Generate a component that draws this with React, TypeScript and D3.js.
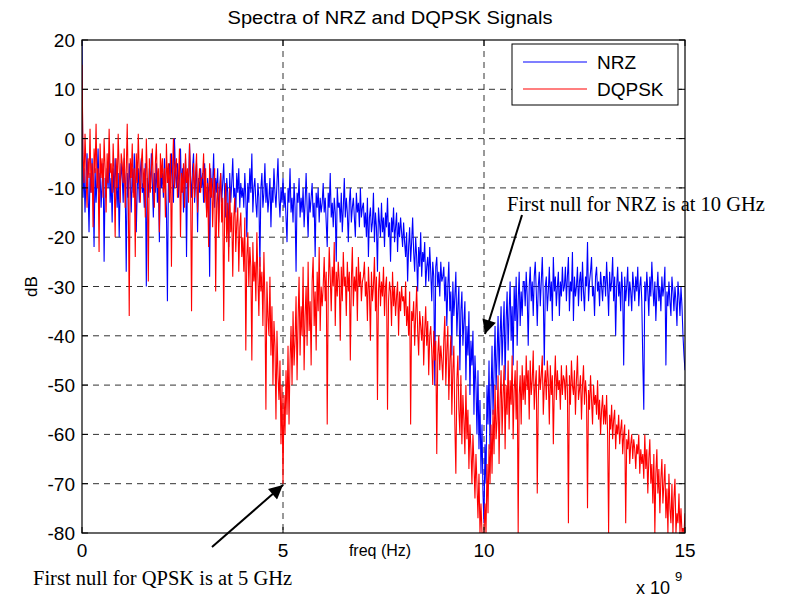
import React from "react";
import * as d3 from "d3";

const F_MAX_GHZ = 15;
const xTicks = [0, 5, 10, 15];
const yTicks = [20, 10, 0, -10, -20, -30, -40, -50, -60, -70, -80];
const seriesNames = ["NRZ", "DQPSK"];
const seriesColors = ["#0000ff", "#ff0000"];

// NRZ spectrum (dB), 0..15 GHz, 0.025 GHz steps (one row per GHz)
const nrz = [
  20, -12, -6, -15, -8, -3, -10, -19, -7, -11, -4, -9, -22, -6, -13, -8, -2, -11, -7, -14, -9, -5, -25, -8, -12, -6, -10, -3, -13, -8, -17, -6, -11, -4, -9, -14, -7, -20, -10, -5,
  -8, -13, -4, -10, -27, -7, -12, -5, -9, -15, -6, -11, -3, -8, -19, -10, -6, -13, -7, -4, -11, -9, -14, -5, -30, -8, -12, -6, -10, -3, -9, -16, -7, -11, -5, -13, -8, -21, -6, -10,
  -7, -12, -4, -9, -14, -33, -8, -5, -11, -3, -9, -13, 0, -7, -10, -5, -12, -8, -2, -11, -6, -15, -9, -4, -24, -7, -10, -1, -8, -12, -6, -3, -13, -9, -5, -19, -8, -11, -6, -10,
  -7, -13, -5, -10, -15, -8, -11, -28, -6, -12, -9, -3, -14, -8, -11, -6, -17, -10, -7, -13, -9, -5, -12, -16, -8, -11, -22, -7, -13, -9, -4, -12, -10, -15, -7, -11, -6, -14, -9, -12,
  -10, -14, -7, -12, -20, -9, -13, -6, -11, -3, -15, -10, -8, -13, -16, -9, -12, -26, -10, -7, -14, -11, -5, -13, -9, -15, -12, -8, -18, -10, -13, -6, -11, -14, -9, -4, -12, -16, -10, -13,
  -8, -14, -11, -16, -21, -10, -13, -6, -15, -12, -17, -9, -14, -27, -11, -13, -8, -16, -12, -15, -10, -18, -13, -7, -14, -20, -11, -15, -12, -9, -16, -13, -24, -11, -14, -10, -17, -12, -15, -13,
  -9, -15, -12, -17, -22, -11, -14, -7, -16, -13, -18, -12, -15, -25, -10, -14, -13, -17, -11, -19, -14, -8, -16, -12, -15, -21, -13, -10, -17, -14, -12, -16, -20, -11, -15, -13, -18, -10, -16, -14,
  -13, -18, -15, -20, -12, -24, -16, -14, -19, -17, -11, -21, -15, -18, -27, -14, -17, -20, -13, -19, -16, -22, -15, -18, -12, -20, -17, -25, -16, -19, -14, -21, -18, -15, -23, -17, -20, -16, -19, -22,
  -17, -21, -24, -19, -29, -22, -18, -25, -21, -16, -23, -27, -20, -24, -31, -22, -26, -19, -28, -23, -25, -21, -30, -26, -24, -29, -22, -27, -33, -25, -28, -50, -26, -24, -30, -27, -32, -25, -29, -28,
  -26, -33, -28, -38, -30, -25, -35, -31, -44, -29, -36, -32, -27, -40, -34, -30, -47, -35, -31, -42, -37, -33, -49, -38, -44, -35, -52, -41, -46, -39, -56, -44, -50, -60, -47, -63, -53, -68, -58, -72,
  -78, -62, -70, -50, -58, -45, -63, -52, -42, -56, -47, -38, -51, -44, -36, -48, -40, -34, -46, -39, -33, -49, -37, -31, -43, -35, -29, -41, -34, -46, -30, -37, -28, -42, -33, -27, -38, -31, -36, -29,
  -29, -34, -27, -32, -42, -30, -26, -33, -29, -36, -28, -25, -31, -38, -30, -27, -34, -29, -24, -32, -46, -30, -28, -35, -31, -26, -33, -29, -37, -24, -31, -28, -34, -30, -27, -36, -29, -32, -26, -31,
  -30, -26, -33, -28, -24, -35, -29, -31, -23, -37, -28, -32, -30, -26, -34, -29, -27, -33, -25, -31, -35, -28, -30, -21, -33, -29, -27, -24, -32, -30, -36, -28, -26, -31, -29, -34, -27, -30, -33, -28,
  -28, -32, -25, -30, -36, -27, -31, -29, -24, -33, -28, -40, -30, -26, -32, -29, -35, -27, -31, -46, -28, -33, -30, -26, -34, -29, -31, -35, -27, -30, -33, -28, -31, -26, -34, -30, -28, -33, -45, -55,
  -29, -33, -27, -31, -36, -28, -32, -25, -30, -34, -29, -37, -31, -27, -33, -30, -35, -28, -32, -30, -26, -46, -31, -34, -29, -33, -36, -28, -31, -35, -30, -33, -38, -29, -32, -36, -30, -34, -40, -44,
  -47,
];

// DQPSK spectrum (dB), same frequency grid
const dqpsk = [
  15, -3, -9, 1, -6, -14, -4, -8, 2, -11, -5, -18, -2, -7, 3, -10, -6, -23, -1, -8, -4, -12, 0, -6, -15, -3, -9, 2, -7, -5, -11, -1, -8, -20, -4, -10, 1, -6, -13, -3,
  -5, -9, -2, -14, -7, 3, -10, -36, -4, -8, -1, -12, -6, -24, -3, -9, 1, -7, -13, -5, -2, -10, -6, -16, 0, -8, -29, -4, -11, -7, -2, -9, -14, -5, -1, -10, -6, -19, -3, -8,
  -4, -11, -6, -16, -1, -9, -5, -13, -3, -26, -7, 0, -10, -6, -4, -12, -8, -2, -20, -7, -11, -5, -14, -3, -9, -6, -13, -1, -8, -35, -10, -5, -12, -7, -3, -15, -9, -6, -11, -8,
  -8, -3, -13, -6, -16, -9, -22, -5, -12, -8, -18, -10, -6, -31, -13, -9, -20, -11, -7, -17, -12, -37, -14, -9, -21, -13, -25, -10, -19, -15, -28, -16, -12, -23, -17, -14, -27, -18, -15, -24,
  -20, -27, -16, -43, -24, -19, -30, -22, -26, -45, -21, -29, -25, -33, -19, -28, -36, -24, -31, -27, -38, -23, -33, -55, -29, -36, -40, -28, -44, -34, -50, -37, -42, -57, -39, -48, -53, -45, -62, -50,
  -70, -52, -60, -47, -56, -42, -58, -45, -38, -50, -35, -46, -41, -32, -49, -37, -28, -44, -34, -40, -26, -47, -36, -30, -42, -25, -39, -33, -46, -29, -24, -38, -31, -43, -27, -35, -22, -39, -30, -34,
  -30, -24, -33, -27, -58, -31, -22, -28, -35, -26, -30, -21, -38, -27, -32, -25, -29, -41, -26, -33, -23, -30, -28, -36, -25, -31, -27, -45, -29, -22, -34, -28, -31, -26, -37, -24, -30, -27, -33, -29,
  -28, -25, -32, -29, -37, -26, -31, -41, -27, -33, -30, -24, -35, -28, -53, -31, -27, -34, -29, -32, -26, -36, -30, -28, -55, -33, -29, -31, -38, -27, -34, -30, -36, -32, -29, -40, -31, -35, -30, -33,
  -32, -36, -29, -38, -34, -40, -31, -58, -35, -37, -33, -42, -36, -30, -39, -44, -35, -38, -41, -36, -46, -39, -34, -42, -37, -48, -40, -38, -43, -50, -39, -45, -41, -64, -44, -40, -47, -42, -45, -49,
  -41, -36, -50, -43, -38, -53, -45, -40, -56, -47, -42, -58, -68, -49, -44, -55, -60, -48, -62, -52, -57, -64, -50, -61, -55, -67, -58, -63, -70, -60, -66, -73, -64, -70, -77, -68, -80, -74, -80, -80,
  -80, -74, -80, -66, -76, -62, -70, -58, -68, -55, -64, -50, -61, -57, -48, -66, -53, -47, -60, -52, -46, -63, -50, -56, -45, -59, -49, -54, -44, -61, -51, -47, -57, -45, -80, -52, -48, -58, -46, -53,
  -48, -54, -44, -51, -47, -57, -45, -52, -49, -43, -55, -50, -47, -72, -53, -46, -51, -48, -44, -56, -50, -47, -53, -45, -49, -58, -46, -52, -48, -62, -50, -44, -53, -47, -51, -49, -55, -46, -52, -48,
  -49, -53, -46, -51, -78, -48, -54, -45, -50, -52, -47, -56, -49, -44, -53, -51, -48, -57, -50, -46, -54, -49, -52, -75, -51, -55, -48, -53, -58, -50, -54, -52, -56, -49, -57, -53, -60, -55, -52, -58,
  -54, -58, -52, -60, -80, -56, -59, -54, -61, -57, -55, -63, -58, -60, -56, -62, -59, -57, -64, -60, -58, -78, -61, -63, -59, -66, -62, -60, -65, -61, -63, -67, -62, -64, -60, -68, -63, -66, -64, -69,
  -60, -67, -63, -72, -65, -61, -70, -66, -74, -64, -80, -68, -63, -72, -67, -76, -69, -65, -74, -70, -66, -77, -71, -80, -68, -75, -78, -70, -80, -73, -69, -80, -76, -78, -72, -80, -75, -80, -79, -80,
  -76,
];

const W = 809;
const H = 600;
const L = 82, R = 685, T = 40, B = 533;

export default function App() {
  const x = d3.scaleLinear().domain([0, F_MAX_GHZ]).range([L, R]);
  const y = d3.scaleLinear().domain([-80, 20]).range([B, T]);
  const makeLine = (arr: number[]) =>
    d3
      .line<number>()
      .x((_, i) => x((i * F_MAX_GHZ) / (arr.length - 1)))
      .y((d) => y(d))(arr) || "";
  const sans = "'Liberation Sans', Arial, sans-serif";
  const serif = "'Liberation Serif', 'Times New Roman', serif";
  const tickLen = 6;

  return (
    <svg
      width={W}
      height={H}
      style={{ position: "absolute", left: 0, top: 0, background: "#fff" }}
    >
      <defs>
        <clipPath id="plotclip">
          <rect x={L} y={T} width={R - L} height={B - T} />
        </clipPath>
        <marker id="arrow" viewBox="0 0 10 10" refX="10" refY="5" markerWidth="15" markerHeight="14" markerUnits="userSpaceOnUse" orient="auto">
          <path d="M0,0 L10,5 L0,10 z" fill="#000" />
        </marker>
      </defs>
      <rect x={0} y={0} width={W} height={H} fill="#fff" />
      <text x={390} y={24} textAnchor="middle" fontFamily={sans} fontSize={18} textLength={325} lengthAdjust="spacingAndGlyphs">
        Spectra of NRZ and DQPSK Signals
      </text>
      {[5, 10].map((v) => (
        <line key={"gx" + v} x1={x(v)} x2={x(v)} y1={T} y2={B} stroke="#333" strokeWidth={1} strokeDasharray="6,5" />
      ))}
      {yTicks.filter((v) => v !== 20 && v !== -80).map((v) => (
        <line key={"gy" + v} x1={L} x2={R} y1={y(v)} y2={y(v)} stroke="#333" strokeWidth={1} strokeDasharray="6,5" />
      ))}
      <g clipPath="url(#plotclip)">
        <path d={makeLine(nrz)} fill="none" stroke={seriesColors[0]} strokeWidth={1.1} />
        <path d={makeLine(dqpsk)} fill="none" stroke={seriesColors[1]} strokeWidth={1.1} />
      </g>
      <rect x={L} y={T} width={R - L} height={B - T} fill="none" stroke="#000" strokeWidth={1.2} />
      {xTicks.map((v) => (
        <g key={"xt" + v}>
          <line x1={x(v)} x2={x(v)} y1={B} y2={B - tickLen} stroke="#000" />
          <line x1={x(v)} x2={x(v)} y1={T} y2={T + tickLen} stroke="#000" />
          <text x={x(v)} y={557} textAnchor="middle" fontFamily={sans} fontSize={19}>
            {v}
          </text>
        </g>
      ))}
      {yTicks.map((v) => (
        <g key={"yt" + v}>
          <line x1={L} x2={L + tickLen} y1={y(v)} y2={y(v)} stroke="#000" />
          <line x1={R} x2={R - tickLen} y1={y(v)} y2={y(v)} stroke="#000" />
          <text x={75} y={y(v) + 7} textAnchor="end" fontFamily={sans} fontSize={19}>
            {v}
          </text>
        </g>
      ))}
      <text x={380} y={556} textAnchor="middle" fontFamily={sans} fontSize={16}>
        freq (Hz)
      </text>
      <text x={636} y={594} fontFamily={sans} fontSize={18}>
        x 10
      </text>
      <text x={675} y={581} fontFamily={sans} fontSize={13}>
        9
      </text>
      <text transform={`translate(37,${(T + B) / 2}) rotate(-90)`} textAnchor="middle" fontFamily={sans} fontSize={17}>
        dB
      </text>
      <rect x={512} y={44} width={166} height={61} fill="#fff" stroke="#000" strokeWidth={1} />
      {seriesNames.map((name, i) => (
        <g key={name}>
          <line x1={523} x2={587} y1={62 + i * 27} y2={62 + i * 27} stroke={seriesColors[i]} strokeWidth={1.2} />
          <text x={597} y={69 + i * 27} fontFamily={sans} fontSize={19}>
            {name}
          </text>
        </g>
      ))}
      <text x={507} y={211} fontFamily={serif} fontSize={20.5}>
        First null for NRZ is at 10 GHz
      </text>
      <line x1={522} y1={215} x2={485} y2={334} stroke="#000" strokeWidth={2} markerEnd="url(#arrow)" />
      <text x={33} y={585} fontFamily={serif} fontSize={20.5}>
        First null for QPSK is at 5 GHz
      </text>
      <line x1={212} y1={547} x2={283} y2={485} stroke="#000" strokeWidth={2} markerEnd="url(#arrow)" />
    </svg>
  );
}
